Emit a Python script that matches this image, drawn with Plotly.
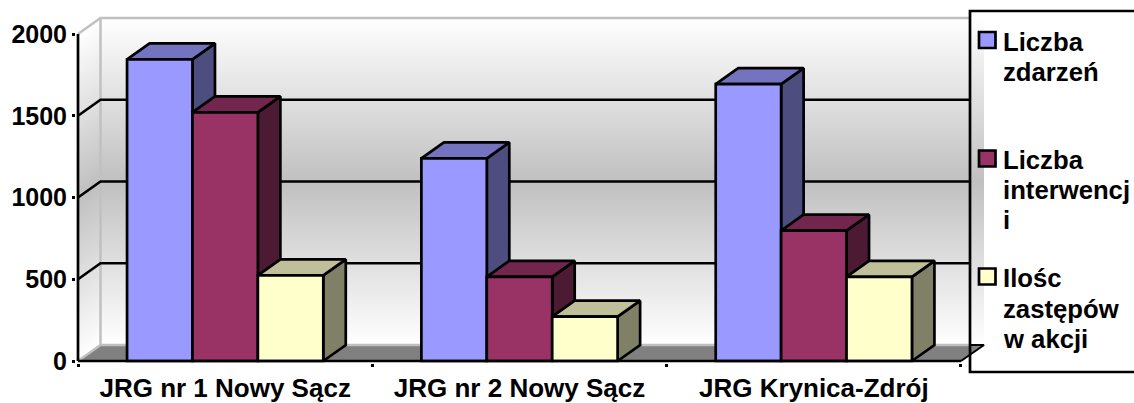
import plotly.graph_objects as go

categories = ["JRG nr 1 Nowy Sącz", "JRG nr 2 Nowy Sącz", "JRG Krynica-Zdrój"]
liczba_zdarzen = [1845, 1239, 1694]
liczba_interwencji = [1521, 515, 797]
ilosc_zastepow = [524, 271, 515]
series_names = ["Liczba zdarzeń", "Liczba interwencji", "Ilośc zastępów w akcji"]
legend_lines = [["Liczba", "zdarzeń"], ["Liczba", "interwencj", "i"], ["Ilośc", "zastępów", "w akcji"]]
y_ticks = [0, 500, 1000, 1500, 2000]

front_colors = ["#9999FF", "#993366", "#FFFFCC"]
top_colors = ["#7373BF", "#73264D", "#BFBF99"]
side_colors = ["#4D4D80", "#4D1A33", "#808066"]
series = [liczba_zdarzen, liczba_interwencji, ilosc_zastepow]

W, H = 1134, 403
PL, PR, PT, PB = 76, 990, 16, 363       # plot rectangle in pixels
X0, CAT_PX = 78, 294.33                 # x = 0 position and category width
Y0, VAL_PX = 361, 327 / 2000            # y = 0 position and pixels per value
DX = 22.5 / CAT_PX                      # depth in axis units
DY = 16 / VAL_PX
BAR_W = 2 / 9
GAP = 1 / 6
XR = [(PL - X0) / CAT_PX, (PR - X0) / CAT_PX]
YR = [(Y0 - PB) / VAL_PX, (Y0 - PT) / VAL_PX]
LEG_X = (970 - X0) / CAT_PX
WALL_R = (984 - X0) / CAT_PX
YMAX = 2000
LW = 2.7


def xp(px):
    return (px - PL) / (PR - PL)


def yp(py):
    return (PB - py) / (PB - PT)


def wall_color(t):
    # white at floor and ceiling, #c0c0c0 half way
    c = round(255 - (255 - 192) * (1 - abs(2 * t - 1)))
    return f"rgb({c},{c},{c})"


fig = go.Figure()
shapes = []

# Back wall with gradient
fig.add_trace(go.Scatter(
    x=[DX, WALL_R, WALL_R, DX, DX], y=[DY, DY, YMAX + DY, YMAX + DY, DY],
    mode="lines", line=dict(width=0), fill="toself", hoverinfo="skip", showlegend=False,
    fillgradient=dict(type="vertical", start=DY, stop=YMAX + DY,
                      colorscale=[[0, "#ffffff"], [0.5, "#c0c0c0"], [1, "#ffffff"]]),
))

# Side wall, skewed gradient made of thin bands
N = 80
for k in range(N):
    v0, v1 = YMAX * k / N, YMAX * (k + 1) / N
    shapes.append(dict(
        type="path", xref="x", yref="y", layer="below", line=dict(width=0),
        fillcolor=wall_color((k + 0.5) / N),
        path=f"M 0 {v0} L {DX} {v0 + DY} L {DX} {v1 + DY + 8} L 0 {v1 + 8} Z" if k < N - 1
        else f"M 0 {v0} L {DX} {v0 + DY} L {DX} {v1 + DY} L 0 {v1} Z",
    ))


def poly(xs, ys, fill=None, color="black", width=LW):
    fig.add_trace(go.Scatter(
        x=xs, y=ys, mode="lines", line=dict(color=color, width=width),
        fill="toself" if fill else None, fillcolor=fill,
        hoverinfo="skip", showlegend=False,
    ))


# Floor
poly([0, DX, WALL_R, 3, 0], [0, DY, DY, 0, 0], fill="#808080", color="rgba(0,0,0,0)", width=0)
poly([3, WALL_R, LEG_X], [0, DY, DY], color="black", width=2)
poly([0, DX, LEG_X], [0, DY, DY], color="#c0c0c0", width=2.5)

# Wall edges
poly([0, DX, LEG_X], [YMAX, YMAX + DY, YMAX + DY], color="#c0c0c0", width=2.5)
poly([DX, DX], [DY, YMAX + DY], color="#c0c0c0", width=2.5)

# Gridlines with their diagonals on the side wall
for v in y_ticks[1:-1]:
    poly([0, DX, LEG_X], [v, v + DY, v + DY], color="black", width=LW)

# Side and top faces of every bar
for i in range(len(categories)):
    for j, vals in enumerate(series):
        v = vals[i]
        l = i + GAP + j * BAR_W
        r = l + BAR_W
        poly([r, r + DX, r + DX, r, r], [0, DY, v + DY, v, 0], fill=side_colors[j])
        poly([l, l + DX, r + DX, r, l], [v, v + DY, v + DY, v, v], fill=top_colors[j])

# Front faces: real bars on an overlaid pair of axes so they sit above the depth faces
for j, vals in enumerate(series):
    fig.add_trace(go.Bar(
        x=[i + 0.5 for i in range(len(categories))], y=vals,
        name=series_names[j],
        marker=dict(color=front_colors[j], line=dict(color="black", width=LW)),
        xaxis="x2", yaxis="y2", showlegend=False,
    ))

# Front axis lines
shapes.append(dict(type="line", xref="x", yref="y", x0=0, x1=3, y0=0, y1=0,
                   line=dict(color="black", width=LW), layer="above"))
shapes.append(dict(type="line", xref="x", yref="y", x0=0, x1=0, y0=0, y1=YMAX,
                   line=dict(color="black", width=LW), layer="above"))

# Legend frame
shapes.append(dict(type="rect", xref="paper", yref="paper",
                   x0=xp(970), x1=xp(1140), y0=yp(372), y1=yp(11),
                   line=dict(color="black", width=LW), fillcolor="rgba(0,0,0,0)", layer="above"))

annotations = []
legend_swatch_y = [40, 158.5, 276.5]
legend_line_y = [[42, 72], [160, 190, 220], [278, 309, 339]]
for j in range(3):
    sy = legend_swatch_y[j]
    shapes.append(dict(type="rect", xref="paper", yref="paper",
                       x0=xp(979), x1=xp(995.5), y0=yp(sy + 8), y1=yp(sy - 8),
                       line=dict(color="black", width=LW), fillcolor=front_colors[j], layer="above"))
    for line, ly in zip(legend_lines[j], legend_line_y[j]):
        annotations.append(dict(
            xref="paper", yref="paper", x=xp(1000.5), y=yp(ly),
            xanchor="left", yanchor="middle", align="left", showarrow=False,
            text=line,
            font=dict(family="Liberation Sans", size=25.7, color="black", weight=700),
        ))

fig.update_layout(
    width=W, height=H,
    margin=dict(l=PL, r=W - PR, t=PT, b=H - PB, pad=0, autoexpand=False),
    paper_bgcolor="white", plot_bgcolor="rgba(0,0,0,0)",
    barmode="group", bargap=1 / 3, bargroupgap=0,
    showlegend=False, shapes=shapes, annotations=annotations,
    xaxis=dict(
        range=XR, tickmode="array", tickvals=[0.5, 1.5, 2.5], ticktext=categories,
        ticks="", showgrid=False, zeroline=False, showline=False,
        tickfont=dict(family="Liberation Sans", size=26, color="black", weight=700),
        ticklabelstandoff=7,
        minor=dict(tickmode="array", tickvals=[0, 1, 2, 3], ticks="outside", ticklen=3,
                   tickwidth=2.5, tickcolor="black", showgrid=False),
    ),
    yaxis=dict(
        range=YR, tickmode="array", tickvals=y_ticks, ticks="outside", ticklen=3,
        tickwidth=2.5, tickcolor="black", showgrid=False, zeroline=False, showline=False,
        tickfont=dict(family="Liberation Sans", size=25, color="black", weight=700),
        ticklabelstandoff=0,
    ),
    xaxis2=dict(range=XR, overlaying="x", visible=False),
    yaxis2=dict(range=YR, overlaying="y", visible=False),
)

fig.write_html("out.html", config={"displayModeBar": False},
               post_script="document.body.style.margin='0';")
